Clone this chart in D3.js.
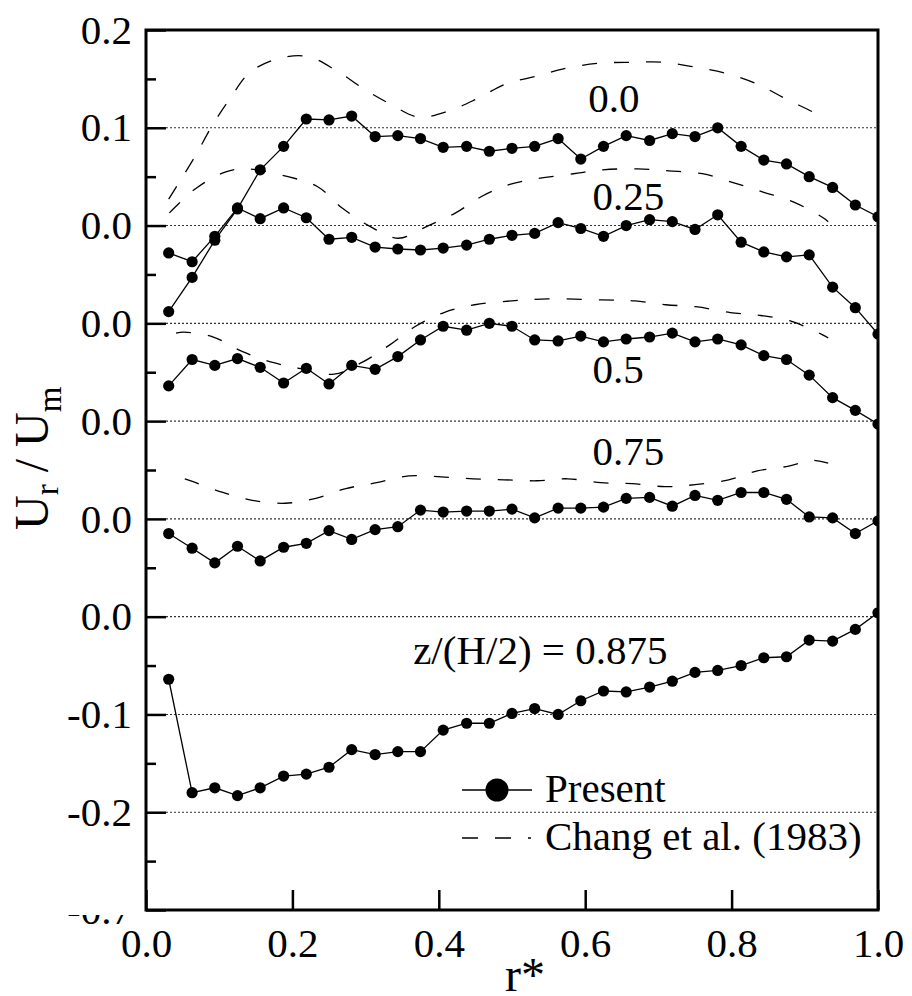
<!DOCTYPE html>
<html>
<head>
<meta charset="utf-8">
<script src="https://cdn.jsdelivr.net/npm/d3@7"></script>
<style>
  body { margin: 0; background: #fff; }
  svg { display: block; }
  text { font-family: "Liberation Serif", "Times New Roman", serif; fill: #000; }
</style>
</head>
<body>
<svg id="chart" width="912" height="996"></svg>
<script>
// Radial positions r* of the measured points
const rStar = [0.031, 0.063, 0.094, 0.125, 0.156, 0.188, 0.219, 0.25, 0.281, 0.313,
               0.344, 0.375, 0.406, 0.438, 0.469, 0.5, 0.531, 0.563, 0.594, 0.625,
               0.656, 0.688, 0.719, 0.75, 0.781, 0.813, 0.844, 0.875, 0.906, 0.938,
               0.969, 1.0];

// Present results, Ur/Um at each r*, one array per height z/(H/2)
const presentZ0 = [-0.088, -0.053, -0.015, 0.017, 0.057, 0.081, 0.109, 0.108, 0.112, 0.091,
                   0.092, 0.089, 0.080, 0.081, 0.076, 0.079, 0.081, 0.089, 0.068, 0.081,
                   0.092, 0.087, 0.094, 0.091, 0.100, 0.081, 0.067, 0.063, 0.050, 0.039,
                   0.021, 0.009];
const presentZ025 = [0.072, 0.063, 0.089, 0.118, 0.107, 0.118, 0.108, 0.086, 0.088, 0.078,
                     0.076, 0.075, 0.077, 0.080, 0.086, 0.090, 0.092, 0.103, 0.097, 0.089,
                     0.100, 0.106, 0.104, 0.096, 0.111, 0.083, 0.073, 0.068, 0.070, 0.037,
                     0.016, -0.011];
const presentZ05 = [0.036, 0.063, 0.057, 0.064, 0.055, 0.039, 0.054, 0.038, 0.057, 0.053,
                    0.066, 0.083, 0.097, 0.093, 0.100, 0.097, 0.083, 0.082, 0.087, 0.081,
                    0.084, 0.086, 0.090, 0.081, 0.084, 0.078, 0.067, 0.063, 0.047, 0.024,
                    0.011, -0.003];
const presentZ075 = [-0.015, -0.030, -0.045, -0.028, -0.043, -0.029, -0.025, -0.012, -0.021, -0.011,
                     -0.008, 0.009, 0.007, 0.008, 0.008, 0.010, 0.001, 0.011, 0.011, 0.012,
                     0.021, 0.022, 0.013, 0.024, 0.019, 0.027, 0.027, 0.020, 0.002, 0.001,
                     -0.015, -0.002];
const presentZ0875 = [-0.064, -0.180, -0.175, -0.183, -0.175, -0.163, -0.161, -0.154, -0.136, -0.141,
                      -0.138, -0.138, -0.116, -0.109, -0.109, -0.099, -0.094, -0.100, -0.086, -0.076,
                      -0.077, -0.072, -0.066, -0.057, -0.055, -0.050, -0.042, -0.041, -0.024, -0.025,
                      -0.013, 0.004];

// Chang et al. (1983), [r*, Ur/Um]
const changZ0 = [[0.031, 0.027], [0.046, 0.045], [0.068, 0.072], [0.091, 0.103], [0.115, 0.130],
                 [0.141, 0.156], [0.177, 0.170], [0.220, 0.173], [0.259, 0.159], [0.299, 0.139],
                 [0.332, 0.125], [0.372, 0.111], [0.413, 0.117], [0.453, 0.130], [0.492, 0.145],
                 [0.535, 0.153], [0.574, 0.161], [0.619, 0.166], [0.665, 0.167], [0.708, 0.167],
                 [0.750, 0.162], [0.791, 0.156], [0.834, 0.145], [0.873, 0.130], [0.914, 0.115],
                 [0.923, 0.111]];
const changZ025 = [[0.032, 0.113], [0.040, 0.119], [0.070, 0.139], [0.109, 0.155], [0.138, 0.158],
                   [0.194, 0.150], [0.234, 0.140], [0.268, 0.118], [0.304, 0.100], [0.345, 0.087],
                   [0.383, 0.099], [0.423, 0.113], [0.459, 0.130], [0.497, 0.142], [0.535, 0.148],
                   [0.584, 0.153], [0.624, 0.157], [0.672, 0.158], [0.714, 0.156], [0.760, 0.153],
                   [0.802, 0.144], [0.844, 0.134], [0.885, 0.124], [0.925, 0.108], [0.932, 0.104]];
const changZ05 = [[0.041, 0.090], [0.052, 0.091], [0.092, 0.086], [0.132, 0.071], [0.173, 0.060],
                  [0.209, 0.054], [0.257, 0.048], [0.295, 0.060], [0.333, 0.078], [0.366, 0.096],
                  [0.407, 0.111], [0.449, 0.119], [0.500, 0.123], [0.549, 0.125], [0.623, 0.124],
                  [0.668, 0.123], [0.710, 0.119], [0.751, 0.117], [0.798, 0.111], [0.840, 0.108],
                  [0.882, 0.102], [0.925, 0.088], [0.932, 0.085]];
const changZ075 = [[0.053, 0.041], [0.068, 0.037], [0.105, 0.027], [0.145, 0.019], [0.190, 0.016],
                   [0.232, 0.021], [0.273, 0.031], [0.315, 0.037], [0.359, 0.044], [0.403, 0.043],
                   [0.447, 0.041], [0.489, 0.040], [0.534, 0.039], [0.576, 0.041], [0.621, 0.037],
                   [0.664, 0.036], [0.709, 0.033], [0.750, 0.035], [0.796, 0.040], [0.835, 0.049],
                   [0.878, 0.054], [0.910, 0.060], [0.932, 0.057]];

// Each profile is shifted down the shared axis by its own offset
const profileShift = [0, -0.1, -0.2, -0.3, -0.4];
const profileLabels = ["0.0", "0.25", "0.5", "0.75", "z/(H/2) = 0.875"];

// Axis ticks and their printed labels
const yMajorTicks = [-0.7, -0.6, -0.5, -0.4, -0.3, -0.2, -0.1, 0.0, 0.1, 0.2];
const yTickLabels = ["-0.7", "-0.2", "-0.1", "0.0", "0.0", "0.0", "0.0", "0.0", "0.1", "0.2"];
const yMinorTicks = [-0.65, -0.55, -0.45, -0.35, -0.25, -0.15, -0.05, 0.05, 0.15];
const xTicks = [0.0, 0.2, 0.4, 0.6, 0.8, 1.0];
const xTickLabels = ["0.0", "0.2", "0.4", "0.6", "0.8", "1.0"];
const legendLabels = ["Present", "Chang et al. (1983)"];

const presentSeries = [presentZ0, presentZ025, presentZ05, presentZ075, presentZ0875];
const changSeries = [changZ0, changZ025, changZ05, changZ075];

const svg = d3.select("#chart");
const plotLeft = 146, plotRight = 878, plotTop = 30, plotBottom = 910;
const x = d3.scaleLinear().domain([0, 1]).range([plotLeft, plotRight]);
const y = d3.scaleLinear().domain([-0.7, 0.2]).range([plotBottom, plotTop]);

const defs = svg.append("defs");
defs.append("clipPath").attr("id", "plot-area")
  .append("rect").attr("x", plotLeft).attr("y", plotTop)
  .attr("width", plotRight - plotLeft).attr("height", plotBottom - plotTop);

// Dotted reference lines at the inner major ticks
svg.append("g").selectAll("line")
  .data(yMajorTicks.filter(v => v > -0.7 && v < 0.2))
  .join("line")
  .attr("x1", plotLeft + 20).attr("x2", plotRight - 1)
  .attr("y1", d => y(d)).attr("y2", d => y(d))
  .attr("stroke", "#333").attr("stroke-width", 1.1)
  .attr("stroke-dasharray", "2,2");

// Y axis: major ticks with labels, minor ticks without
const yAxis = svg.append("g").attr("transform", `translate(${plotLeft},0)`)
  .call(d3.axisLeft(y).tickValues(yMajorTicks)
    .tickFormat((d, i) => yTickLabels[i]).tickSize(-20).tickSizeOuter(0).tickPadding(14));
svg.append("g").attr("transform", `translate(${plotLeft},0)`)
  .call(d3.axisLeft(y).tickValues(yMinorTicks).tickFormat("").tickSize(-10).tickSizeOuter(0));

// X axis
svg.append("g").attr("transform", `translate(0,${plotBottom})`)
  .call(d3.axisBottom(x).tickValues(xTicks)
    .tickFormat((d, i) => xTickLabels[i]).tickSize(-20).tickSizeOuter(0).tickPadding(18));

svg.selectAll(".domain").remove();
svg.selectAll(".tick line").attr("stroke", "#000").attr("stroke-width", 2.5);
svg.selectAll(".tick text").attr("font-size", 41)
  .attr("font-family", '"Liberation Serif", "Times New Roman", serif').attr("fill", "#000");

// The lowest y label sits under the frame corner; only its lower part shows
const lowClip = defs.append("clipPath").attr("id", "low-label");
lowClip.append("rect").attr("x", -120).attr("y", 4.5).attr("width", 120).attr("height", 40);
yAxis.selectAll(".tick").filter(d => d === -0.7).select("text").attr("clip-path", "url(#low-label)");

// Chang et al. dashed profiles
const plot = svg.append("g").attr("clip-path", "url(#plot-area)");
const dashLine = d3.line().curve(d3.curveCatmullRom.alpha(0.5));
changSeries.forEach((series, i) => {
  plot.append("path")
    .attr("d", dashLine(series.map(p => [x(p[0]), y(p[1] + profileShift[i])])))
    .attr("fill", "none").attr("stroke", "#000").attr("stroke-width", 1.3)
    .attr("stroke-dasharray", "15,17");
});

// Present profiles: connected filled circles
const solidLine = d3.line();
presentSeries.forEach((series, i) => {
  const pts = series.map((v, k) => [x(rStar[k]), y(v + profileShift[i])]);
  plot.append("path").attr("d", solidLine(pts))
    .attr("fill", "none").attr("stroke", "#000").attr("stroke-width", 1.3);
  plot.append("g").selectAll("circle").data(pts).join("circle")
    .attr("cx", d => d[0]).attr("cy", d => d[1]).attr("r", 5.6).attr("fill", "#000");
});

// Height labels for each profile
const labelAnchors = [[0.604, 0.116], [0.610, 0.016], [0.610, -0.161], [0.610, -0.245], [0.365, -0.448]];
svg.append("g").selectAll("text").data(profileLabels).join("text")
  .attr("x", (d, i) => x(labelAnchors[i][0]))
  .attr("y", (d, i) => y(labelAnchors[i][1]))
  .attr("font-size", 41).text(d => d);

// Frame
svg.append("rect").attr("x", plotLeft).attr("y", plotTop)
  .attr("width", plotRight - plotLeft).attr("height", plotBottom - plotTop)
  .attr("fill", "none").attr("stroke", "#000").attr("stroke-width", 3);

// Legend
const legend = svg.append("g");
legend.append("line").attr("x1", 462).attr("x2", 532).attr("y1", 790).attr("y2", 790)
  .attr("stroke", "#000").attr("stroke-width", 1.3);
legend.append("circle").attr("cx", 497).attr("cy", 790).attr("r", 11.5).attr("fill", "#000");
legend.append("line").attr("x1", 462).attr("x2", 531).attr("y1", 838).attr("y2", 838)
  .attr("stroke", "#000").attr("stroke-width", 1.3).attr("stroke-dasharray", "16,17");
legend.selectAll("text.lg").data(legendLabels).join("text").attr("class", "lg")
  .attr("x", 545).attr("y", (d, i) => 802 + i * 48)
  .attr("font-size", 41).text(d => d);

// Axis titles
svg.append("text").attr("x", 525).attr("y", 991).attr("text-anchor", "middle")
  .attr("font-size", 48).text("r*");

const yTitle = svg.append("text").attr("transform", "translate(48,530) rotate(-90)")
  .attr("font-size", 48);
yTitle.append("tspan").text("U");
yTitle.append("tspan").attr("font-size", 33).attr("dy", 10).text("r");
yTitle.append("tspan").attr("dy", -10).text(" / U");
yTitle.append("tspan").attr("font-size", 33).attr("dy", 13).text("m");
</script>
</body>
</html>
